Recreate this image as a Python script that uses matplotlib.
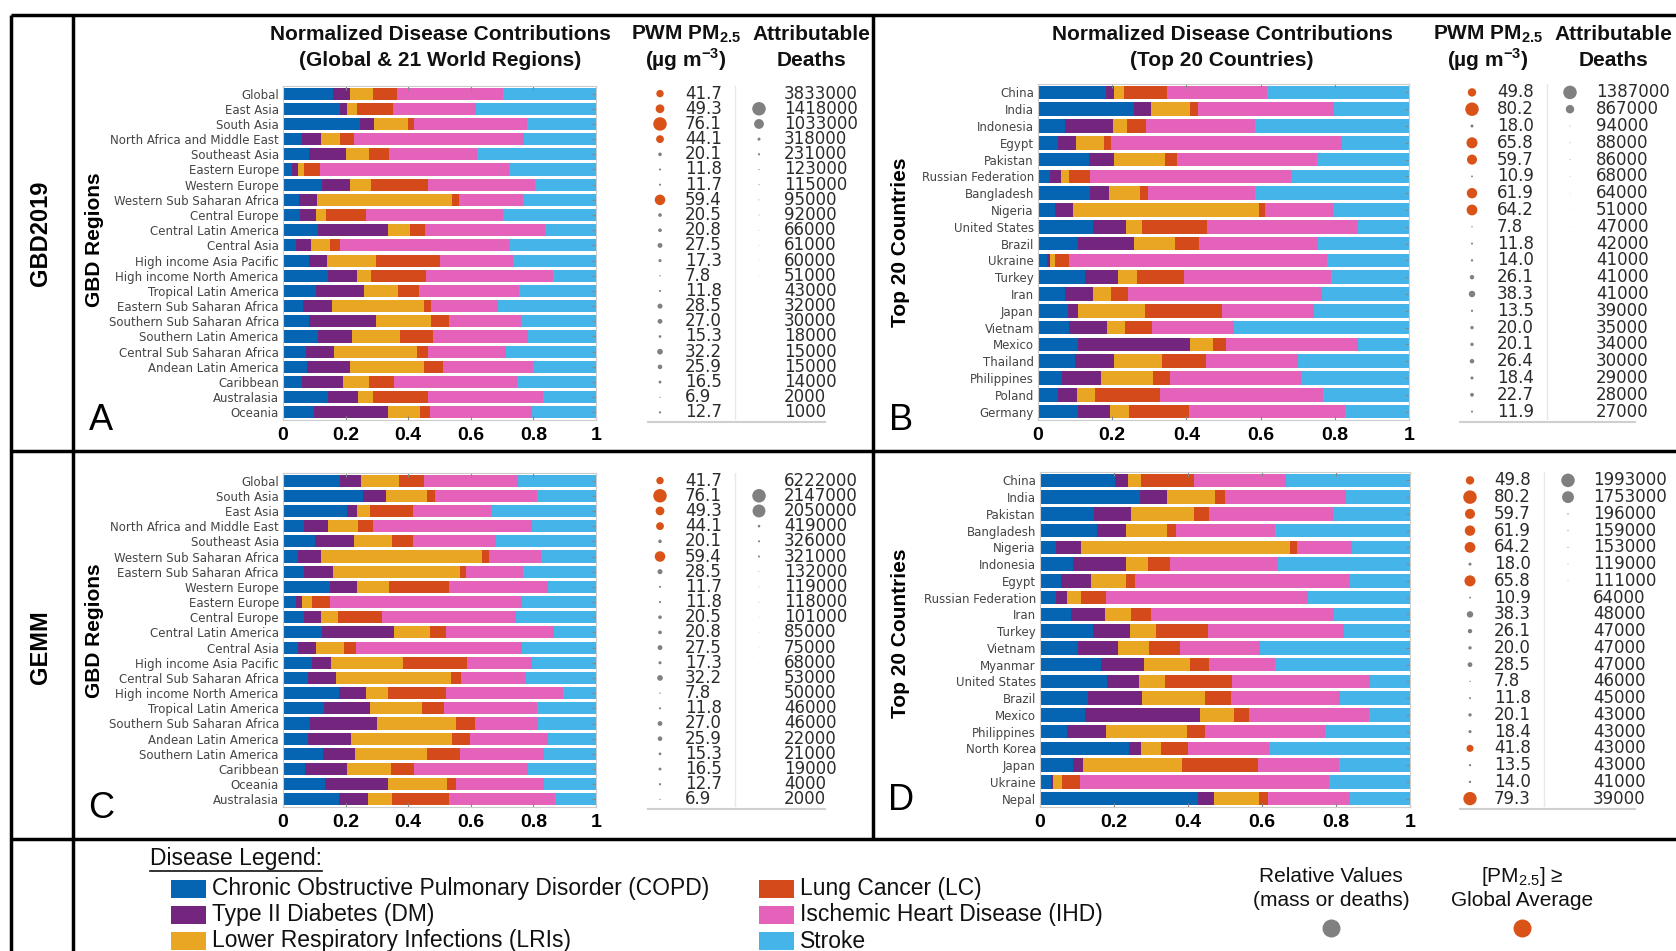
import numpy as np
import matplotlib
matplotlib.use("Agg")
import matplotlib.pyplot as plt

plt.rcParams["font.family"] = ["Liberation Sans", "DejaVu Sans"]

W, H = 1676, 951

# ---------------- data ----------------
disease_names = ["Chronic Obstructive Pulmonary Disorder (COPD)", "Type II Diabetes (DM)",
                 "Lower Respiratory Infections (LRIs)", "Lung Cancer (LC)",
                 "Ischemic Heart Disease (IHD)", "Stroke"]
disease_colors = ["#0565b2", "#74267f", "#e9a623", "#d44a1a", "#e462ba", "#45b4e8"]

# A: GBD2019, regions
labels_a = ["Global", "East Asia", "South Asia", "North Africa and Middle East", "Southeast Asia",
            "Eastern Europe", "Western Europe", "Western Sub Saharan Africa", "Central Europe",
            "Central Latin America", "Central Asia", "High income Asia Pacific",
            "High income North America", "Tropical Latin America", "Eastern Sub Saharan Africa",
            "Southern Sub Saharan Africa", "Southern Latin America", "Central Sub Saharan Africa",
            "Andean Latin America", "Caribbean", "Australasia", "Oceania"]
copd_a = [.160, .183, .245, .062, .084, .030, .126, .051, .055, .113, .043, .083, .145, .107, .064, .083, .113, .073, .076, .062, .143, .099]
dm_a = [.053, .023, .045, .058, .116, .019, .089, .058, .050, .221, .048, .057, .090, .152, .091, .213, .106, .090, .138, .131, .098, .235]
lri_a = [.076, .030, .109, .062, .076, .019, .067, .432, .033, .071, .058, .158, .045, .108, .297, .176, .155, .265, .235, .081, .048, .105]
lc_a = [.076, .114, .021, .046, .062, .050, .182, .020, .126, .050, .033, .203, .176, .066, .020, .057, .106, .035, .061, .080, .175, .030]
ihd_a = [.339, .266, .361, .543, .281, .603, .342, .205, .438, .381, .544, .233, .407, .322, .214, .231, .302, .248, .290, .393, .368, .326]
stroke_a = [.296, .384, .219, .229, .381, .279, .194, .234, .298, .164, .274, .266, .137, .245, .314, .240, .218, .289, .200, .253, .168, .205]
pm_a = [41.7, 49.3, 76.1, 44.1, 20.1, 11.8, 11.7, 59.4, 20.5, 20.8, 27.5, 17.3, 7.8, 11.8, 28.5, 27.0, 15.3, 32.2, 25.9, 16.5, 6.9, 12.7]
deaths_a = [3833000, 1418000, 1033000, 318000, 231000, 123000, 115000, 95000, 92000, 66000, 61000,
            60000, 51000, 43000, 32000, 30000, 18000, 15000, 15000, 14000, 2000, 1000]

# B: GBD2019, countries
labels_b = ["China", "India", "Indonesia", "Egypt", "Pakistan", "Russian Federation", "Bangladesh",
            "Nigeria", "United States", "Brazil", "Ukraine", "Turkey", "Iran", "Japan", "Vietnam",
            "Mexico", "Thailand", "Philippines", "Poland", "Germany"]
copd_b = [.183, .260, .073, .053, .138, .033, .141, .045, .147, .109, .024, .127, .073, .081, .084, .108, .099, .064, .054, .109]
dm_b = [.022, .044, .130, .050, .067, .029, .051, .050, .089, .150, .007, .088, .075, .027, .101, .302, .107, .105, .050, .086]
lri_b = [.028, .107, .036, .074, .137, .022, .084, .501, .044, .110, .014, .051, .048, .181, .050, .061, .127, .141, .049, .050]
lc_b = [.116, .021, .051, .020, .032, .057, .020, .016, .176, .065, .039, .128, .047, .208, .073, .037, .121, .046, .177, .163]
ihd_b = [.268, .366, .295, .622, .378, .541, .290, .184, .407, .322, .695, .395, .522, .246, .220, .355, .248, .353, .438, .420]
stroke_b = [.383, .202, .415, .181, .248, .318, .414, .204, .137, .244, .221, .211, .235, .257, .472, .137, .298, .291, .232, .172]
pm_b = [49.8, 80.2, 18.0, 65.8, 59.7, 10.9, 61.9, 64.2, 7.8, 11.8, 14.0, 26.1, 38.3, 13.5, 20.0, 20.1, 26.4, 18.4, 22.7, 11.9]
deaths_b = [1387000, 867000, 94000, 88000, 86000, 68000, 64000, 51000, 47000, 42000, 41000, 41000,
            41000, 39000, 35000, 34000, 30000, 29000, 28000, 27000]

# C: GEMM, regions
labels_c = ["Global", "South Asia", "East Asia", "North Africa and Middle East", "Southeast Asia",
            "Western Sub Saharan Africa", "Eastern Sub Saharan Africa", "Western Europe",
            "Eastern Europe", "Central Europe", "Central Latin America", "Central Asia",
            "High income Asia Pacific", "Central Sub Saharan Africa", "High income North America",
            "Tropical Latin America", "Southern Sub Saharan Africa", "Andean Latin America",
            "Southern Latin America", "Caribbean", "Oceania", "Australasia"]
copd_c = [.182, .254, .206, .068, .103, .049, .066, .150, .040, .066, .126, .049, .093, .080, .180, .130, .086, .080, .128, .071, .135, .178]
dm_c = [.067, .075, .032, .077, .124, .073, .093, .088, .021, .056, .230, .058, .061, .089, .086, .148, .213, .137, .102, .134, .199, .095]
lri_c = [.123, .130, .039, .096, .121, .515, .407, .102, .032, .054, .113, .089, .228, .367, .069, .167, .255, .322, .229, .139, .190, .074]
lc_c = [.077, .028, .138, .048, .067, .022, .019, .190, .056, .140, .051, .037, .205, .032, .186, .070, .058, .060, .105, .074, .030, .182]
ihd_c = [.303, .323, .248, .508, .264, .164, .181, .317, .614, .427, .346, .530, .209, .208, .373, .295, .203, .248, .269, .366, .281, .340]
stroke_c = [.248, .190, .337, .203, .321, .177, .234, .153, .237, .257, .134, .237, .204, .224, .106, .190, .185, .153, .167, .216, .165, .131]
pm_c = [41.7, 76.1, 49.3, 44.1, 20.1, 59.4, 28.5, 11.7, 11.8, 20.5, 20.8, 27.5, 17.3, 32.2, 7.8, 11.8, 27.0, 25.9, 15.3, 16.5, 12.7, 6.9]
deaths_c = [6222000, 2147000, 2050000, 419000, 326000, 321000, 132000, 119000, 118000, 101000, 85000,
            75000, 68000, 53000, 50000, 46000, 46000, 22000, 21000, 19000, 4000, 2000]

# D: GEMM, countries
labels_d = ["China", "India", "Pakistan", "Bangladesh", "Nigeria", "Indonesia", "Egypt",
            "Russian Federation", "Iran", "Turkey", "Vietnam", "Myanmar", "United States", "Brazil",
            "Mexico", "Philippines", "North Korea", "Japan", "Ukraine", "Nepal"]
copd_d = [.204, .271, .147, .155, .043, .089, .058, .044, .083, .142, .103, .165, .181, .130, .122, .073, .240, .089, .031, .428]
dm_d = [.033, .072, .098, .078, .067, .144, .080, .030, .094, .100, .109, .117, .086, .146, .311, .106, .032, .026, .005, .042]
lri_d = [.036, .130, .170, .109, .565, .058, .095, .038, .070, .072, .082, .123, .070, .171, .092, .218, .056, .268, .024, .123]
lc_d = [.142, .026, .042, .026, .019, .059, .025, .066, .054, .141, .084, .051, .183, .068, .039, .048, .071, .206, .047, .023]
ihd_d = [.249, .327, .334, .267, .150, .293, .581, .547, .493, .367, .216, .179, .373, .295, .326, .324, .219, .219, .673, .221]
stroke_d = [.336, .174, .209, .365, .156, .357, .161, .275, .206, .178, .406, .365, .107, .190, .110, .231, .382, .192, .220, .163]
pm_d = [49.8, 80.2, 59.7, 61.9, 64.2, 18.0, 65.8, 10.9, 38.3, 26.1, 20.0, 28.5, 7.8, 11.8, 20.1, 18.4, 41.8, 13.5, 14.0, 79.3]
deaths_d = [1993000, 1753000, 196000, 159000, 153000, 119000, 111000, 64000, 48000, 47000, 47000,
            47000, 46000, 45000, 43000, 43000, 43000, 43000, 41000, 39000]

global_pm = pm_a[0]

ORANGE = "#d95319"
GRAY = "#808080"
TXT = "#2b2b2b"


def px_rect(x0, y0, x1, y1):
    return [x0 / W, 1 - y1 / H, (x1 - x0) / W, (y1 - y0) / H]


fig = plt.figure(figsize=(W / 100, H / 100), dpi=100)

# overlay in pixel coordinates for frame, titles, legend
ov = fig.add_axes([0, 0, 1, 1])
ov.set_xlim(0, W)
ov.set_ylim(H, 0)
ov.axis("off")

frame = dict(color="black", lw=2.5, solid_capstyle="butt")
ov.plot([11, W], [15, 15], **frame)
ov.plot([11, W], [451, 451], **frame)
ov.plot([11, W], [839, 839], **frame)
ov.plot([11, 11], [15, H], **frame)
ov.plot([73, 73], [15, H], **frame)
ov.plot([873, 873], [15, 839], **frame)

ov.text(40, 233, "GBD2019", rotation=90, ha="center", va="center", fontsize=17, fontweight="bold")
ov.text(40, 647, "GEMM", rotation=90, ha="center", va="center", fontsize=17, fontweight="bold")

hdr = dict(ha="center", va="center", fontsize=15, fontweight="bold", color="#111111")
for cx, sub in [(440, "(Global & 21 World Regions)"), (1222, "(Top 20 Countries)")]:
    ov.text(cx, 34, "Normalized Disease Contributions", **hdr)
    ov.text(cx, 60, sub, **hdr)
for cx_pm, cx_d in [(686, 811), (1488, 1613)]:
    ov.text(cx_pm, 34, r"PWM PM$_{\mathregular{2.5}}$", **hdr)
    ov.text(cx_pm, 60, r"(µg m$^{\mathregular{-3}}$)", **hdr)
    ov.text(cx_d, 34, "Attributable", **hdr)
    ov.text(cx_d, 60, "Deaths", **hdr)

panels = [
    dict(letter="A", ylab="GBD Regions", labels=labels_a,
         parts=[copd_a, dm_a, lri_a, lc_a, ihd_a, stroke_a], pm=pm_a, deaths=deaths_a,
         box=(283, 86, 596, 420), cols=(660, 685, 735, 759, 784, 648, 825),
         lpos=(101, 420), ypos=(94, 240), has_global=True),
    dict(letter="B", ylab="Top 20 Countries", labels=labels_b,
         parts=[copd_b, dm_b, lri_b, lc_b, ihd_b, stroke_b], pm=pm_b, deaths=deaths_b,
         box=(1038, 84, 1409, 420), cols=(1472, 1497, 1547, 1570, 1596, 1460, 1635),
         lpos=(901, 420), ypos=(900, 242), has_global=False),
    dict(letter="C", ylab="GBD Regions", labels=labels_c,
         parts=[copd_c, dm_c, lri_c, lc_c, ihd_c, stroke_c], pm=pm_c, deaths=deaths_c,
         box=(283, 473, 596, 807), cols=(660, 685, 735, 759, 784, 648, 825),
         lpos=(101, 809), ypos=(94, 631), has_global=True),
    dict(letter="D", ylab="Top 20 Countries", labels=labels_d,
         parts=[copd_d, dm_d, lri_d, lc_d, ihd_d, stroke_d], pm=pm_d, deaths=deaths_d,
         box=(1040, 472, 1410, 807), cols=(1470, 1494, 1544, 1568, 1593, 1460, 1635),
         lpos=(901, 800), ypos=(900, 633), has_global=False),
]

for p in panels:
    n = len(p["labels"])
    y = np.arange(n)

    ax = fig.add_axes(px_rect(*p["box"]))
    left = np.zeros(n)
    for vals, col in zip(p["parts"], disease_colors):
        ax.barh(y, vals, left=left, height=0.8, color=col, linewidth=0)
        left += np.array(vals)
    ax.set_xlim(0, 1)
    ax.set_ylim(n - 0.5, -0.5)
    ax.set_yticks(y)
    ax.set_yticklabels(p["labels"], fontsize=8.5, color="#444444", family="DejaVu Sans")
    ax.set_xticks([0, 0.2, 0.4, 0.6, 0.8, 1])
    ax.set_xticklabels(["0", "0.2", "0.4", "0.6", "0.8", "1"], fontsize=14, fontweight="bold")
    ax.tick_params(axis="x", direction="in", top=True, length=3, color="#888888", pad=5)
    ax.tick_params(axis="y", direction="in", right=True, left=False, length=3, color="#888888", pad=3)
    for s in ax.spines.values():
        s.set_color("#cccccc")

    # side columns: PM2.5 and attributable deaths
    x0, y0, x1, y1 = p["box"]
    sx = fig.add_axes(px_rect(0, y0, W, y1))
    sx.set_xlim(0, W)
    sx.set_ylim(n - 0.5, -0.5)
    sx.axis("off")
    sx.patch.set_alpha(0)
    pm_dot, pm_txt, vline, d_dot, d_txt, h0, h1 = p["cols"]

    pm = np.array(p["pm"])
    pm_size = (13.5 * pm / pm.max() * 0.72) ** 2
    pm_col = [ORANGE if v >= global_pm else GRAY for v in pm]
    sx.scatter(np.full(n, pm_dot), y, s=pm_size, c=pm_col, linewidths=0, clip_on=False)

    deaths = np.array(p["deaths"], dtype=float)
    start = 1 if p["has_global"] else 0
    d_size = (13.5 * deaths[start:] / deaths[start:].max() * 0.72) ** 2
    sx.scatter(np.full(n - start, d_dot), y[start:], s=d_size, c=GRAY, linewidths=0, clip_on=False)

    for i in range(n):
        sx.text(pm_txt, i, f"{pm[i]:.1f}", ha="left", va="center", fontsize=12,
                color=TXT, family="DejaVu Sans")
        sx.text(d_txt, i, f"{int(deaths[i])}", ha="left", va="center", fontsize=12,
                color=TXT, family="DejaVu Sans")
    sx.plot([vline, vline], [-0.5, n - 0.5], color="#e8e8e8", lw=1)
    sx.plot([h0, h1], [n - 0.4, n - 0.4], color="#cfcfcf", lw=1.5, clip_on=False)

    ov.text(*p["lpos"], p["letter"], ha="center", va="center", fontsize=26)
    ov.text(*p["ypos"], p["ylab"], rotation=90, ha="center", va="center", fontsize=15, fontweight="bold")

# ---------------- legend ----------------
lg = ov.text(150, 858, "Disease Legend:", ha="left", va="center", fontsize=16.5, color="#111111")
fig.canvas.draw()
bb = lg.get_window_extent()
ov.plot([bb.x0, bb.x1], [H - bb.y0 + 1.5, H - bb.y0 + 1.5], color="#111111", lw=1.2)

rows_y = [889, 915, 941]
for k, (name, col) in enumerate(zip(disease_names, disease_colors)):
    cx = 171 if k < 3 else 759
    tx = 212 if k < 3 else 800
    yy = rows_y[k % 3]
    ov.add_patch(plt.Rectangle((cx, yy - 9), 35, 18, color=col, lw=0))
    ov.text(tx, yy, name, ha="left", va="center", fontsize=16.5, color="#111111")

ov.text(1331, 876, "Relative Values", ha="center", va="center", fontsize=15, color="#111111")
ov.text(1331, 900, "(mass or deaths)", ha="center", va="center", fontsize=15, color="#111111")
ov.scatter([1331], [928], s=(18 * 0.72) ** 2, c=GRAY, linewidths=0)
ov.text(1522, 876, r"[PM$_{\mathregular{2.5}}$] ≥", ha="center", va="center", fontsize=15, color="#111111")
ov.text(1522, 900, "Global Average", ha="center", va="center", fontsize=15, color="#111111")
ov.scatter([1522], [928], s=(18 * 0.72) ** 2, c=ORANGE, linewidths=0)

fig.savefig("out.png", dpi=100)
